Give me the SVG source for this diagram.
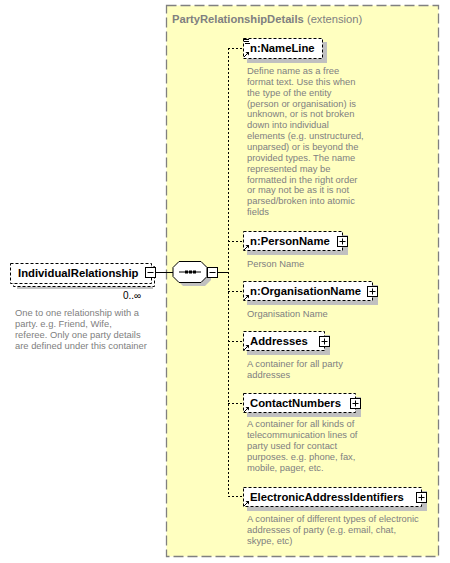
<svg xmlns="http://www.w3.org/2000/svg" width="450" height="563" viewBox="0 0 450 563">
<style>
.bg{fill:#FFFFFF}
.cont{fill:#FFFFC0;stroke:#808080;stroke-width:1.3;stroke-dasharray:10,4}
.box{fill:#FFFFFF;stroke:#000000;stroke-width:1;stroke-dasharray:3,2}
.shadow{fill:#C0C0C0}
.name{font-family:"Liberation Sans",Arial,sans-serif;font-size:11.3px;font-weight:bold;fill:#000000}
.desc{font-family:"Liberation Sans",Arial,sans-serif;font-size:9.4px;fill:#808080}
.title{font-family:"Liberation Sans",Arial,sans-serif;font-size:11.2px;fill:#808080}
.btn{fill:#FFFFFF;stroke:#000000;stroke-width:1}
.sign{stroke:#000000;stroke-width:1;fill:none}
.conn{stroke:#000000;stroke-width:1;fill:none;stroke-dasharray:2,2}
.solid{stroke:#000000;stroke-width:1;fill:none}
.icon{stroke:#000000;stroke-width:1;fill:none}
</style>
<defs>
<g id="refarrow">
<path d="M0,5 L4,1" class="icon"/>
<path d="M1.5,0 L5,0 L5,3.5 Z" fill="#000000"/>
</g>
</defs>
<rect class="bg" x="0" y="0" width="450" height="563"/>

<g id="container">
<rect class="cont" x="166.5" y="5.5" width="272" height="551"/>
<text x="172" y="23" class="title"><tspan font-weight="bold">PartyRelationshipDetails</tspan> (extension)</text>
</g>

<g id="connectors">
<line class="solid" x1="155" y1="272.5" x2="173" y2="272.5"/>
<line class="solid" x1="218" y1="272.5" x2="228" y2="272.5"/>
<line class="conn" x1="228.5" y1="48" x2="228.5" y2="497"/>
<line class="conn" x1="228" y1="48.5" x2="243" y2="48.5"/>
<line class="conn" x1="228" y1="241.5" x2="243" y2="241.5"/>
<line class="conn" x1="228" y1="291.5" x2="243" y2="291.5"/>
<line class="conn" x1="228" y1="341.5" x2="243" y2="341.5"/>
<line class="conn" x1="228" y1="403.5" x2="243" y2="403.5"/>
<line class="conn" x1="228" y1="496.5" x2="243" y2="496.5"/>
</g>

<g id="IndividualRelationship">
<rect class="shadow" x="17" y="269" width="136" height="20"/>
<rect class="box" x="13.5" y="266.5" width="141" height="20"/>
<rect class="box" x="10.5" y="263.5" width="141" height="20"/>
<text x="18" y="277" class="name">IndividualRelationship</text>
<rect class="btn" x="145.5" y="267.5" width="10" height="10"/>
<line class="sign" x1="147.5" y1="272.5" x2="153.5" y2="272.5"/>
<text x="123" y="299" font-family="Liberation Sans,Arial,sans-serif" font-size="10px" fill="#000000">0..∞</text>
<text class="desc" x="15" y="316">One to one relationship with a</text>
<text class="desc" x="15" y="327">party. e.g. Friend, Wife,</text>
<text class="desc" x="15" y="338">referee. Only one party details</text>
<text class="desc" x="15" y="349">are defined under this container</text>
</g>

<g id="sequence">
<polygon class="shadow" points="183,265 205,265 211,271 211,280 205,286 183,286 177,280 177,271"/>
<polygon points="179,261.5 201,261.5 207,267.5 207,276.5 201,282.5 179,282.5 173,276.5 173,267.5" fill="#FFFFFF" stroke="#000000" stroke-width="1"/>
<line class="solid" x1="179" y1="272" x2="201" y2="272"/>
<rect x="185" y="270.5" width="3" height="3" fill="#000000"/>
<rect x="189" y="270.5" width="3" height="3" fill="#000000"/>
<rect x="193" y="270.5" width="3" height="3" fill="#000000"/>
<rect class="btn" x="207.5" y="267.5" width="10" height="10"/>
<line class="sign" x1="209.5" y1="272.5" x2="215.5" y2="272.5"/>
</g>

<g id="NameLine">
<rect class="shadow" x="247" y="42" width="80" height="21"/>
<rect class="box" x="243.5" y="38.5" width="79" height="20"/>
<line class="icon" x1="244" y1="39.5" x2="249" y2="39.5"/>
<line class="icon" x1="244" y1="41.5" x2="249" y2="41.5"/>
<line class="icon" x1="245" y1="43.5" x2="250" y2="43.5"/>
<use href="#refarrow" x="244" y="52"/>
<text x="250" y="52" class="name">n:NameLine</text>
<text class="desc" x="247" y="74">Define name as a free</text>
<text class="desc" x="247" y="84.85">format text. Use this when</text>
<text class="desc" x="247" y="95.7">the type of the entity</text>
<text class="desc" x="247" y="106.55">(person or organisation) is</text>
<text class="desc" x="247" y="117.4">unknown, or is not broken</text>
<text class="desc" x="247" y="128.25">down into individual</text>
<text class="desc" x="247" y="139.1">elements (e.g. unstructured,</text>
<text class="desc" x="247" y="149.95">unparsed) or is beyond the</text>
<text class="desc" x="247" y="160.8">provided types. The name</text>
<text class="desc" x="247" y="171.65">represented may be</text>
<text class="desc" x="247" y="182.5">formatted in the right order</text>
<text class="desc" x="247" y="193.35">or may not be as it is not</text>
<text class="desc" x="247" y="204.2">parsed/broken into atomic</text>
<text class="desc" x="247" y="215.05">fields</text>
</g>

<g id="PersonName">
<rect class="shadow" x="247" y="235" width="101" height="20"/>
<rect class="box" x="243.5" y="231.5" width="99" height="19"/>
<use href="#refarrow" x="244" y="245"/>
<text x="250" y="245" class="name">n:PersonName</text>
<rect class="btn" x="337.5" y="236.5" width="10" height="10"/>
<line class="sign" x1="339.5" y1="241.5" x2="345.5" y2="241.5"/>
<line class="sign" x1="342.5" y1="238.5" x2="342.5" y2="244.5"/>
<text class="desc" x="247" y="266.5">Person Name</text>
</g>

<g id="OrganisationName">
<rect class="shadow" x="247" y="285" width="131" height="20"/>
<rect class="box" x="243.5" y="281.5" width="129" height="19"/>
<use href="#refarrow" x="244" y="295"/>
<text x="250" y="295" class="name">n:OrganisationName</text>
<rect class="btn" x="367.5" y="286.5" width="10" height="10"/>
<line class="sign" x1="369.5" y1="291.5" x2="375.5" y2="291.5"/>
<line class="sign" x1="372.5" y1="288.5" x2="372.5" y2="294.5"/>
<text class="desc" x="247" y="316.5">Organisation Name</text>
</g>

<g id="Addresses">
<rect class="shadow" x="247" y="335" width="83" height="20"/>
<rect class="box" x="243.5" y="331.5" width="81" height="19"/>
<use href="#refarrow" x="244" y="345"/>
<text x="250" y="345" class="name">Addresses</text>
<rect class="btn" x="319.5" y="336.5" width="10" height="10"/>
<line class="sign" x1="321.5" y1="341.5" x2="327.5" y2="341.5"/>
<line class="sign" x1="324.5" y1="338.5" x2="324.5" y2="344.5"/>
<text class="desc" x="247" y="366.5">A container for all party</text>
<text class="desc" x="247" y="377.5">addresses</text>
</g>

<g id="ContactNumbers">
<rect class="shadow" x="247" y="397" width="114" height="20"/>
<rect class="box" x="243.5" y="393.5" width="112" height="19"/>
<use href="#refarrow" x="244" y="407"/>
<text x="250" y="407" class="name">ContactNumbers</text>
<rect class="btn" x="350.5" y="398.5" width="10" height="10"/>
<line class="sign" x1="352.5" y1="403.5" x2="358.5" y2="403.5"/>
<line class="sign" x1="355.5" y1="400.5" x2="355.5" y2="406.5"/>
<text class="desc" x="247" y="426.5">A container for all kinds of</text>
<text class="desc" x="247" y="437.5">telecommunication lines of</text>
<text class="desc" x="247" y="448.5">party used for contact</text>
<text class="desc" x="247" y="459.5">purposes. e.g. phone, fax,</text>
<text class="desc" x="247" y="470.5">mobile, pager, etc.</text>
</g>

<g id="ElectronicAddressIdentifiers">
<rect class="shadow" x="247" y="491" width="180" height="20"/>
<rect class="box" x="243.5" y="487.5" width="178" height="19"/>
<use href="#refarrow" x="244" y="501"/>
<text x="250" y="501" class="name">ElectronicAddressIdentifiers</text>
<rect class="btn" x="416.5" y="492.5" width="10" height="10"/>
<line class="sign" x1="418.5" y1="497.5" x2="424.5" y2="497.5"/>
<line class="sign" x1="421.5" y1="494.5" x2="421.5" y2="500.5"/>
<text class="desc" x="247" y="521.5">A container of different types of electronic</text>
<text class="desc" x="247" y="532.5">addresses of party (e.g. email, chat,</text>
<text class="desc" x="247" y="543.5">skype, etc)</text>
</g>
</svg>
